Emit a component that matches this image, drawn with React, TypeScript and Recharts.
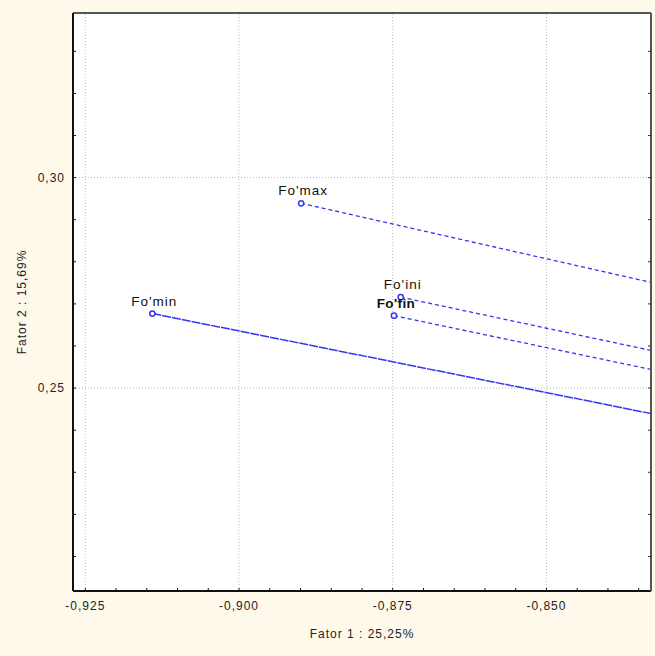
import React from 'react';
import { ComposedChart, XAxis, YAxis, Line, Scatter, ReferenceLine, CartesianGrid } from 'recharts';

// ---- data ----
const pointNames = ["Fo'min", "Fo'max", "Fo'ini", "Fo'fin"];
const factor1 = [-0.9141, -0.8899, -0.8737, -0.8748];
const factor2 = [0.2677, 0.2939, 0.2716, 0.2672];
const boldName = [false, false, false, true];
const lineDash = ['9 1', '4 3', '4 3', '4 3'];
const lineWidth = [1.5, 1.3, 1.3, 1.3];

const xTicks = [-0.925, -0.92, -0.915, -0.91, -0.905, -0.9, -0.895, -0.89, -0.885, -0.88, -0.875, -0.87, -0.865, -0.86, -0.855, -0.85, -0.845, -0.84, -0.835];
const xMajor = [-0.925, -0.9, -0.875, -0.85];
const yTicks = [0.21, 0.22, 0.23, 0.24, 0.25, 0.26, 0.27, 0.28, 0.29, 0.3, 0.31, 0.32, 0.33];
const yMajor = [0.25, 0.3];
const xDomain: [number, number] = [-0.927, -0.833];
const yDomain: [number, number] = [0.2018, 0.3391];
const originPoint = { x: 0, y: 0 };

const xTitle = 'Fator 1 : 25,25%';
const yTitle = 'Fator 2 : 15,69%';

const BLUE = '#3535f5';
const FONT = '"Liberation Sans", Arial, sans-serif';
const TEXT = '#222';

const points = pointNames.map((n, i) => ({ name: n, x: factor1[i], y: factor2[i], bold: boldName[i] }));

const isIn = (arr: number[], v: number) => arr.some((m) => Math.abs(m - v) < 1e-6);
const fmt = (v: number, d: number) => v.toFixed(d).replace('.', ',');

const BottomTick = (props: any) => {
  const { x, y, payload } = props;
  const v = payload.value;
  return (
    <g>
      <line x1={x} y1={y} x2={x} y2={y - 3} stroke="#111" strokeWidth={1} />
      {isIn(xMajor, v) && (
        <text x={x} y={y + 19} textAnchor="middle" fontSize={12} fill={TEXT} fontFamily={FONT} style={{ letterSpacing: 1 }}>
          {fmt(v, 3)}
        </text>
      )}
    </g>
  );
};

const TopTick = (props: any) => {
  const { x, y } = props;
  return <line x1={x} y1={y} x2={x} y2={y + 3} stroke="#333" strokeWidth={1} />;
};

const LeftTick = (props: any) => {
  const { x, y, payload } = props;
  const v = payload.value;
  return (
    <g>
      <line x1={x} y1={y} x2={x + 3} y2={y} stroke="#111" strokeWidth={1} />
      {isIn(yMajor, v) && (
        <text x={x - 8} y={y + 4} textAnchor="end" fontSize={12} fill={TEXT} fontFamily={FONT} style={{ letterSpacing: 1 }}>
          {fmt(v, 2)}
        </text>
      )}
    </g>
  );
};

const RightTick = (props: any) => {
  const { x, y } = props;
  return <line x1={x} y1={y} x2={x - 3} y2={y} stroke="#333" strokeWidth={1} />;
};

const PointShape = (props: any) => {
  const { cx, cy, payload } = props;
  return (
    <g>
      <circle cx={cx} cy={cy} r={2.6} fill="#fff" stroke={BLUE} strokeWidth={1.5} />
      <text
        x={cx + 2}
        y={cy - 8}
        textAnchor="middle"
        fontSize={13.5}
        fontWeight={payload.bold ? 'bold' : 'normal'}
        fill="#111"
        fontFamily={FONT}
        style={{ letterSpacing: payload.bold ? 0.4 : 1 }}
      >
        {payload.name}
      </text>
    </g>
  );
};

export default function App() {
  return (
    <div style={{ position: 'absolute', left: 0, top: 0, width: 655, height: 656, background: '#FFF9EC' }}>
      <ComposedChart width={655} height={656} margin={{ top: 12, right: 3, left: 0, bottom: 0 }}>
        <CartesianGrid horizontal={false} vertical={false} fill="#ffffff" />
        <XAxis
          type="number"
          dataKey="x"
          domain={xDomain}
          allowDataOverflow
          ticks={xTicks}
          interval={0}
          tick={BottomTick}
          tickLine={false}
          tickSize={0}
          tickMargin={0}
          height={65}
          axisLine={{ stroke: '#111', strokeWidth: 2 }}
          label={{ value: xTitle, position: 'insideBottom', offset: 18, fill: TEXT, fontSize: 12, fontFamily: FONT, style: { letterSpacing: 1 } }}
        />
        <XAxis
          xAxisId="top"
          orientation="top"
          type="number"
          domain={xDomain}
          allowDataOverflow
          ticks={xTicks}
          interval={0}
          tick={TopTick}
          tickLine={false}
          tickSize={0}
          tickMargin={0}
          height={1}
          axisLine={{ stroke: '#555', strokeWidth: 2 }}
        />
        <YAxis
          type="number"
          dataKey="y"
          domain={yDomain}
          allowDataOverflow
          ticks={yTicks}
          interval={0}
          tick={LeftTick}
          tickLine={false}
          tickSize={0}
          tickMargin={0}
          width={73}
          axisLine={{ stroke: '#111', strokeWidth: 2 }}
          label={{ value: yTitle, position: 'insideLeft', angle: -90, offset: 22, fill: TEXT, fontSize: 12, fontFamily: FONT, style: { textAnchor: 'middle', letterSpacing: 1 } }}
        />
        <YAxis
          yAxisId="right"
          orientation="right"
          type="number"
          domain={yDomain}
          allowDataOverflow
          ticks={yTicks}
          interval={0}
          tick={RightTick}
          tickLine={false}
          tickSize={0}
          tickMargin={0}
          width={1}
          axisLine={{ stroke: '#555', strokeWidth: 2 }}
        />
        {xMajor.map((v) => (
          <ReferenceLine key={'vx' + v} x={v} stroke="#bdbdbd" strokeDasharray="1 2" />
        ))}
        {yMajor.map((v) => (
          <ReferenceLine key={'hy' + v} y={v} stroke="#bdbdbd" strokeDasharray="1 2" />
        ))}
        {points.map((p, i) => (
          <Line
            key={'ln' + i}
            data={[{ x: p.x, y: p.y }, originPoint]}
            dataKey="y"
            stroke={BLUE}
            strokeWidth={lineWidth[i]}
            strokeDasharray={lineDash[i]}
            dot={false}
            activeDot={false}
            isAnimationActive={false}
            legendType="none"
          />
        ))}
        <Scatter data={points} dataKey="y" shape={PointShape} isAnimationActive={false} />
      </ComposedChart>
    </div>
  );
}
